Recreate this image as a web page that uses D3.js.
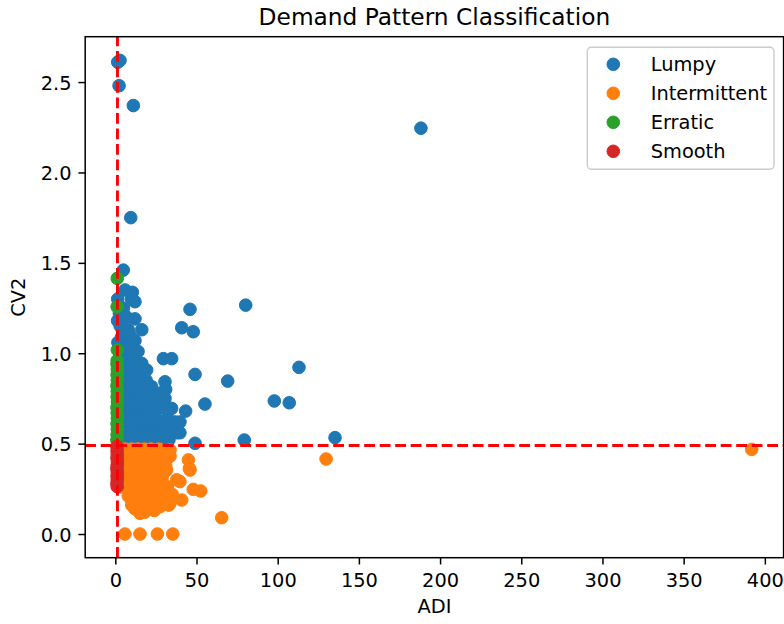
<!DOCTYPE html>
<html><head><meta charset="utf-8">
<script src="https://cdn.jsdelivr.net/npm/d3@7/dist/d3.min.js"></script>
<style>body{margin:0;background:#fff}svg{display:block;font-family:"DejaVu Sans",sans-serif}</style>
</head><body><svg id="c" width="784" height="624"></svg>
<script>
const categories = ["Lumpy", "Intermittent", "Erratic", "Smooth"];
const colors = ["#1f77b4", "#ff7f0e", "#2ca02c", "#d62728"];
const xTicks = [0, 50, 100, 150, 200, 250, 300, 350, 400];
const yTicks = [0.0, 0.5, 1.0, 1.5, 2.0, 2.5];
const adiThreshold = 1.32;
const cv2Threshold = 0.49;

const lumpy = [
 [2.9,2.62],[1.5,2.61],[2.3,2.48],[11.1,2.37],[9.5,1.75],[4.9,1.46],[188.2,2.245],
 [6,1.35],[10.5,1.337],[12.1,1.285],[10,1.3],[1.5,1.3],[1.4,1.18],[12.1,1.19],[16.3,1.13],[8,1.13],
 [3.9,1.09],[12.1,1.07],[11.1,1.02],[2.5,1.22],[5,1.25],[7,1.2],[3,1.15],[6,1.05],[9,1.1],[1.6,1.06],
 [46,1.243],[80.3,1.266],[40.9,1.141],[48,1.119],[49.1,0.883],[69.2,0.846],[113.1,0.922],[55.2,0.719],
 [43.3,0.68],[97.9,0.736],[107.1,0.726],[49.1,0.502],[79.4,0.52],[135.3,0.533],
 [29.6,0.97],[34.7,0.97],[16.3,0.944],[19.3,0.907],[30.6,0.842],[22.4,0.815],[31,0.8],[30.6,0.75],
 [34.7,0.695],[36.8,0.62],[37.8,0.56],[39.8,0.62],[39.8,0.56],[26,0.74],[28,0.78],[25,0.68],
 [2,0.51],[5,0.51],[8,0.51],[11,0.51],[14,0.51],[17,0.51],[20,0.51],[24,0.51],[28,0.51],[33,0.52],
 [1.6,0.54],[4,0.54],[7,0.54],[10,0.54],[13,0.54],[16,0.54],[19,0.54],[22,0.54],[26,0.54],[30,0.55],
 [2.5,0.57],[5.5,0.57],[9,0.57],[12,0.57],[15,0.57],[18,0.57],[21,0.57],[25,0.57],[29,0.58],[34,0.58],
 [1.8,0.6],[4.5,0.6],[7.5,0.6],[11,0.6],[14,0.6],[17,0.6],[20,0.6],[23,0.6],[27,0.61],
 [3,0.63],[6,0.63],[9.5,0.63],[12.5,0.63],[16,0.63],[19,0.63],[22,0.63],[26,0.63],[32,0.64],
 [2,0.66],[5,0.66],[8,0.66],[11.5,0.66],[15,0.66],[18,0.66],[21,0.66],[24,0.66],
 [3.5,0.69],[6.5,0.69],[10,0.69],[13,0.69],[16.5,0.69],[20,0.69],[28,0.7],
 [1.7,0.72],[4.5,0.72],[8,0.72],[11,0.72],[14,0.72],[18,0.72],[22,0.72],
 [3,0.75],[6,0.75],[9.5,0.75],[13,0.75],[16,0.75],[19.5,0.75],[23,0.76],
 [2,0.78],[5,0.78],[8.5,0.78],[12,0.78],[15,0.78],[20,0.78],
 [3.5,0.81],[7,0.81],[10.5,0.81],[14,0.81],[17,0.81],
 [1.6,0.84],[5,0.84],[9,0.84],[12.5,0.84],[16,0.84],[19,0.85],
 [3,0.87],[6.5,0.87],[10,0.87],[14,0.87],[17,0.88],
 [2,0.9],[5,0.9],[8,0.9],[12,0.9],[15,0.92],
 [3.5,0.93],[7,0.93],[10,0.94],[13,0.95],
 [1.8,0.96],[5,0.97],[9,0.97],[12,0.98],
 [3,0.99],[6,1.0],[10,1.0],[14,1.01],[2,1.03],[5,1.04],[8,1.03]
];
const intermittent = [
 [3,0.47],[6,0.47],[10,0.47],[14,0.47],[18,0.47],[22,0.47],[27,0.47],[33.7,0.465],
 [2,0.44],[5,0.44],[8,0.44],[12,0.44],[16,0.44],[21.4,0.455],[25,0.44],[30,0.44],[33.7,0.43],
 [4,0.41],[7,0.41],[11,0.41],[15,0.41],[19,0.41],[24,0.41],[28,0.41],[45,0.41],
 [3,0.38],[6,0.38],[9.5,0.38],[13,0.38],[19,0.38],[22,0.38],[25.5,0.39],[31,0.38],
 [2,0.35],[5,0.35],[8,0.35],[12,0.35],[20,0.35],[27,0.35],[31.6,0.354],[46,0.354],[45.6,0.363],
 [4,0.32],[7,0.32],[10,0.32],[14,0.32],[19.3,0.317],[23,0.32],[29,0.32],
 [1.6,0.29],[5,0.29],[9,0.28],[12,0.29],[16,0.29],[21,0.29],[26,0.29],[29.6,0.28],[37.8,0.3],[39.8,0.29],
 [3.5,0.26],[7,0.26],[11,0.26],[14,0.26],[18,0.26],[24,0.26],[32,0.26],
 [9,0.24],[13,0.24],[19.3,0.243],[27.5,0.243],[48,0.247],[52.6,0.238],
 [8,0.21],[11,0.21],[13.2,0.206],[17,0.21],[22,0.21],[30,0.21],[35,0.22],
 [10,0.19],[15,0.19],[25,0.19],[33.7,0.17],[40.9,0.188],
 [10.1,0.16],[14,0.16],[21,0.17],[27.5,0.151],[33,0.16],
 [12,0.14],[21.4,0.142],[24,0.13],[15.2,0.115],[18,0.12],
 [65.5,0.09],[5.9,0],[15.2,0],[25.9,0],[35.4,0],[129.8,0.415],[391.9,0.468]
];
const erratic = [
 [1.2,1.414],[1.1,1.257],[1.25,1.018],
 [1.0,0.52],[1.1,0.55],[1.2,0.58],[1.05,0.61],[1.25,0.64],[1.15,0.67],[1.0,0.70],[1.3,0.73],
 [1.1,0.76],[1.2,0.79],[1.0,0.82],[1.25,0.85],[1.1,0.88],[1.2,0.91],[1.05,0.94],[1.15,0.96]
];
const smooth = [
 [1.0,0.485],[1.1,0.46],[1.2,0.44],[1.05,0.42],[1.3,0.40],[1.15,0.38],[1.0,0.36],
 [1.25,0.34],[1.1,0.32],[1.2,0.30],[1.0,0.28],[1.15,0.262]
];
const seriesData = [lumpy, intermittent, erratic, smooth];

const svg = d3.select("#c");
const L = 85.2, R = 783.6, T = 36.7, B = 557.7;
const x = d3.scaleLinear().domain([-18.55, 411.55]).range([L, R]);
const y = d3.scaleLinear().domain([-0.131, 2.751]).range([B, T]);
const FS = 19.4;

// points
seriesData.forEach((pts, i) => {
  svg.append("g").selectAll("circle").data(pts).join("circle")
    .attr("cx", d => x(d[0])).attr("cy", d => y(d[1])).attr("r", 6.3)
    .attr("fill", colors[i]).attr("stroke", colors[i]).attr("stroke-width", 1);
});

// threshold lines
svg.append("line").attr("x1", x(adiThreshold)).attr("x2", x(adiThreshold)).attr("y1", B).attr("y2", T)
  .attr("stroke", "red").attr("stroke-width", 2.9).attr("stroke-dasharray", "10.8,4.7");
svg.append("line").attr("x1", L).attr("x2", R).attr("y1", y(cv2Threshold)).attr("y2", y(cv2Threshold))
  .attr("stroke", "red").attr("stroke-width", 2.9).attr("stroke-dasharray", "10.8,4.7");

// axes
const xa = svg.append("g").attr("transform", `translate(0,${B})`)
  .call(d3.axisBottom(x).tickValues(xTicks).tickSize(6.8).tickPadding(9).tickFormat(d3.format("d")));
const ya = svg.append("g").attr("transform", `translate(${L},0)`)
  .call(d3.axisLeft(y).tickValues(yTicks).tickSize(6.8).tickPadding(6.8).tickFormat(d3.format(".1f")));
[xa, ya].forEach(a => {
  a.select(".domain").remove();
  a.selectAll("line").attr("stroke", "#000").attr("stroke-width", 1.5);
  a.selectAll("text").attr("font-size", FS).attr("fill", "#000").attr("font-family", "DejaVu Sans");
});
ya.selectAll("text").attr("dy", "0.36em");

svg.append("rect").attr("x", L).attr("y", T).attr("width", R - L).attr("height", B - T)
  .attr("fill", "none").attr("stroke", "#000").attr("stroke-width", 1.5);

// labels
svg.append("text").attr("x", (L + R) / 2).attr("y", 25).attr("text-anchor", "middle")
  .attr("font-size", 23.3).text("Demand Pattern Classification");
svg.append("text").attr("x", (L + R) / 2).attr("y", 613).attr("text-anchor", "middle")
  .attr("font-size", FS).text("ADI");
svg.append("text").attr("transform", `translate(25,${(T + B) / 2}) rotate(-90)`).attr("text-anchor", "middle")
  .attr("font-size", FS).text("CV2");

// legend
const lg = svg.append("g");
lg.append("rect").attr("x", 587.3).attr("y", 47.3).attr("width", 186.7).attr("height", 122)
  .attr("rx", 4).attr("fill", "#fff").attr("fill-opacity", 0.8).attr("stroke", "#cccccc").attr("stroke-width", 1.4);
categories.forEach((c, i) => {
  const cy = 64.3 + i * 29;
  lg.append("circle").attr("cx", 613.3).attr("cy", cy).attr("r", 6.3).attr("fill", colors[i])
    .attr("stroke", colors[i]).attr("stroke-width", 1);
  lg.append("text").attr("x", 650.7).attr("y", cy + 6.8).attr("font-size", FS).text(c);
});
</script></body></html>
